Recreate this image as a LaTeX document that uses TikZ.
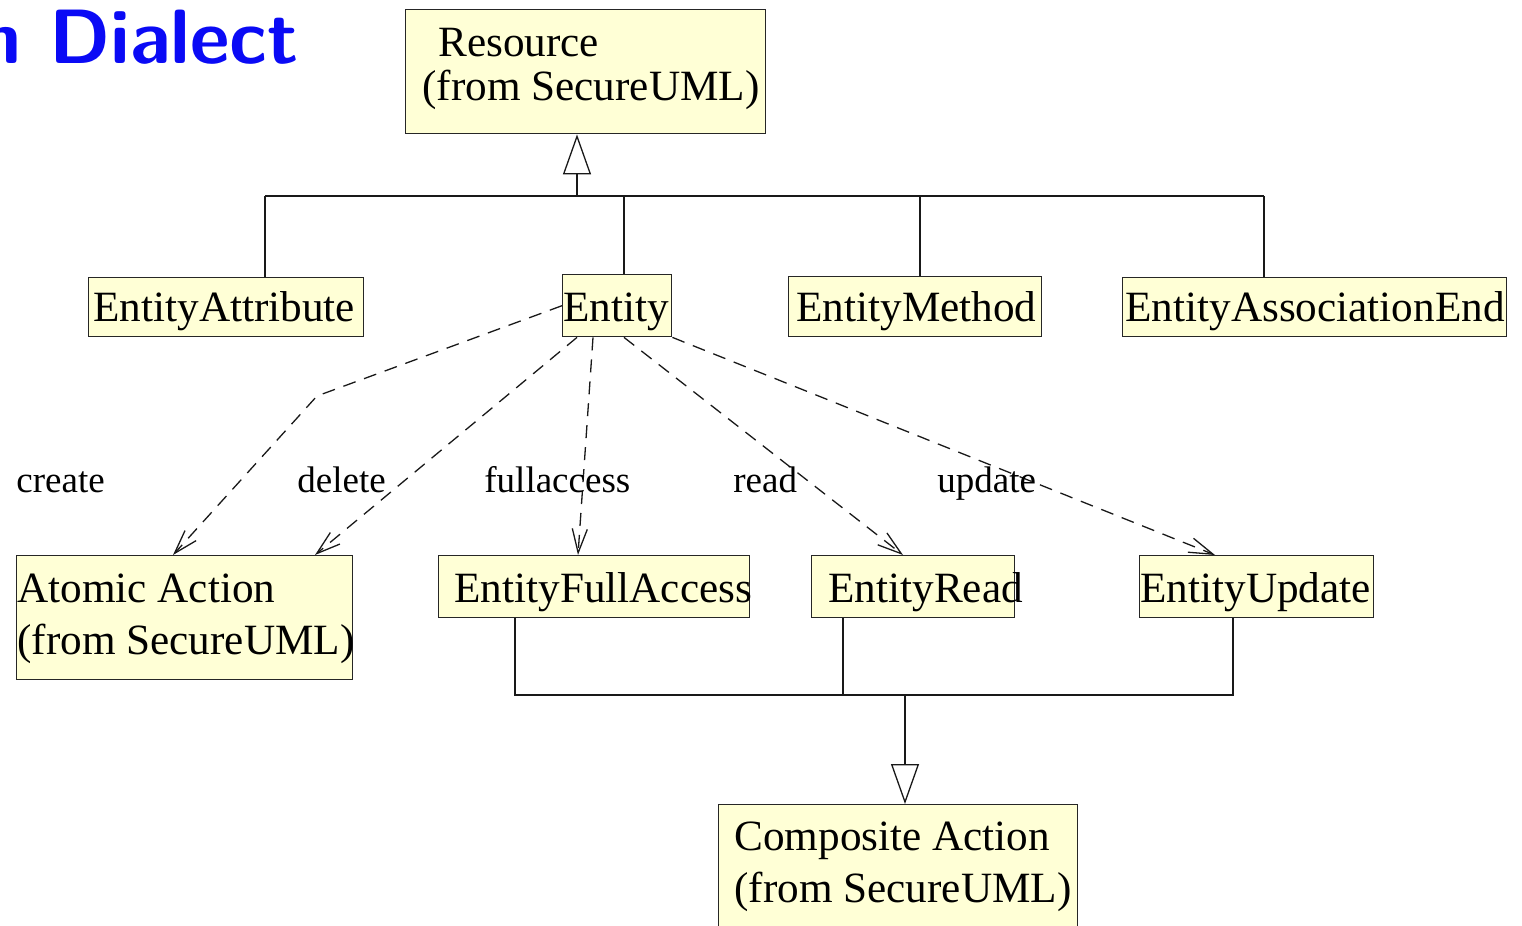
\documentclass[tikz,border=0pt]{standalone}
\usepackage{fontspec}
\setmainfont{Liberation Serif}
\usetikzlibrary{arrows.meta,calc}
\definecolor{boxfill}{RGB}{255,255,214}
\definecolor{titleblue}{RGB}{10,10,245}
\tikzset{
  box/.style={draw=black!85, line width=0.7pt, fill=boxfill, rectangle, inner sep=0pt, anchor=north west},
  boxtext/.style={anchor=base west, inner sep=0pt, font=\fontsize{21.6}{26}\selectfont},
  lbl/.style={anchor=base west, inner sep=0pt, font=\fontsize{18.5}{22}\selectfont},
  conn/.style={draw=black!90, line width=0.65pt},
  gen/.style={conn, -{Triangle[open, fill=white, length=20pt, width=14pt]}},
  dep/.style={conn, dash pattern=on 6.5pt off 4.5pt, -{Straight Barb[length=12pt, width=7.5pt]}},
}
\begin{document}
\begin{tikzpicture}[x=0.5pt, y=-0.5pt]
\useasboundingbox (0,0) rectangle (1522,926);

% title (partly cut by the page edge)
\node[anchor=base east, inner sep=0pt, text=titleblue, font=\sffamily\bfseries\fontsize{38.5}{46}\selectfont] (title) at (299,63) {n Dialect};

% boxes
\node[box, minimum width=180pt, minimum height=62pt] (res) at (405,9) {};
\node[box, minimum width=137.5pt, minimum height=29.5pt] (ea) at (88,277) {};
\node[box, minimum width=54.5pt, minimum height=31pt] (ent) at (562,274) {};
\node[box, minimum width=126.5pt, minimum height=30pt] (em) at (788,276) {};
\node[box, minimum width=192pt, minimum height=29.5pt] (eae) at (1122,277) {};
\node[box, minimum width=168pt, minimum height=62pt] (aa) at (16,555) {};
\node[box, minimum width=155.5pt, minimum height=31pt] (efa) at (438,555) {};
\node[box, minimum width=101.5pt, minimum height=31pt] (er) at (811,555) {};
\node[box, minimum width=117pt, minimum height=31pt] (eu) at (1139,555) {};
\node[box, minimum width=179.5pt, minimum height=70pt] (ca) at (718,804) {};

% box texts
\node[boxtext] (res-t1) at (438,56) {Resource};
\node[boxtext] (res-t2) at (422,100) {(from SecureUML)};
\node[boxtext] (ea-t) at (93,321) {EntityAttribute};
\node[boxtext] (ent-t) at (563,321) {Entity};
\node[boxtext] (em-t) at (796,321) {EntityMethod};
\node[boxtext] (eae-t) at (1125,321) {EntityAssociationEnd};
\node[boxtext] (aa-t1) at (17,602) {Atomic Action};
\node[boxtext] (aa-t2) at (17,654) {(from SecureUML)};
\node[boxtext] (efa-t) at (454,602) {EntityFullAccess};
\node[boxtext] (er-t) at (828,602) {EntityRead};
\node[boxtext] (eu-t) at (1140,602) {EntityUpdate};
\node[boxtext] (ca-t1) at (734,850) {Composite Action};
\node[boxtext] (ca-t2) at (734,902) {(from SecureUML)};

% generalization tree to Resource
\coordinate (g0) at (577,196);
\coordinate (g1) at (265,196);
\coordinate (g2) at (624,196);
\coordinate (g3) at (920,196);
\coordinate (g4) at (1264,196);
\draw[conn] (g1) -- (g4);
\draw[gen] (g0) -- (g0 |- res.south);
\draw[conn] (g1) -- (g1 |- ea.north);
\draw[conn] (g2) -- (g2 |- ent.north);
\draw[conn] (g3) -- (g3 |- em.north);
\draw[conn] (g4) -- (g4 |- eae.north);

% generalization tree to Composite Action
\coordinate (k0) at (905,695);
\coordinate (k1) at (515,695);
\coordinate (k2) at (843,695);
\coordinate (k3) at (1233,695);
\draw[conn] (k1 |- efa.south) -- (k1) -- (k3) -- (k3 |- eu.south);
\draw[conn] (k2 |- er.south) -- (k2);
\draw[gen] (k0) -- (k0 |- ca.north);

% dependencies from Entity
\coordinate (cb) at (317,396);
\draw[dep] (ent.west) -- (cb) -- ($(aa.north west)+(157,0)$);
\draw[dep] ($(ent.south west)+(15,0)$) -- ($(aa.north west)+(299,0)$);
\draw[dep] ($(ent.south west)+(31,0)$) -- ($(efa.north west)+(140,0)$);
\draw[dep] ($(ent.south west)+(62,0)$) -- ($(er.north west)+(92,0)$);
\draw[dep] (ent.south east) -- ($(eu.north west)+(76,0)$);

% labels
\node[lbl] (l-create) at (16,492) {create};
\node[lbl] (l-delete) at (297,492) {delete};
\node[lbl] (l-full) at (484,492) {fullaccess};
\node[lbl] (l-read) at (733,492) {read};
\node[lbl] (l-update) at (937,492) {update};
\end{tikzpicture}
\end{document}
